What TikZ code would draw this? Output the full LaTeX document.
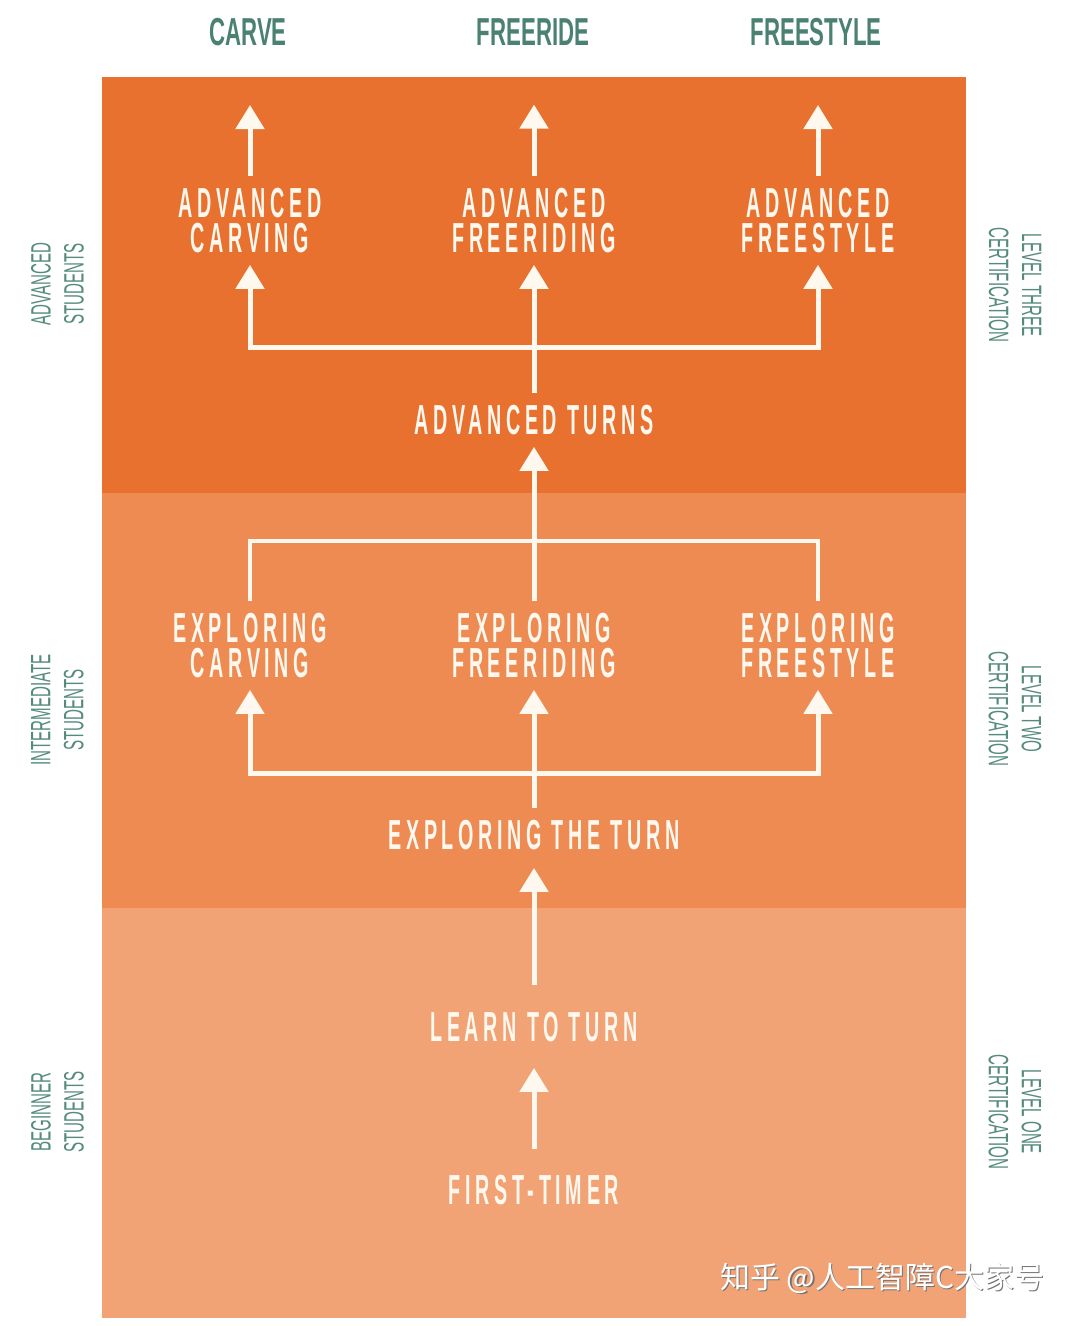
\documentclass[tikz,border=0pt]{standalone}
\usepackage{fontspec}
\setmainfont{Liberation Sans}
\newfontfamily\wfont[FakeStretch=0.47,LetterSpace=11]{Liberation Sans}
\newfontfamily\cfont[FakeStretch=0.57]{Liberation Sans}
\newfontfamily\sfont[FakeStretch=0.54]{Liberation Sans}
\newfontfamily\cjk{Noto Sans CJK SC}
\usetikzlibrary{arrows.meta}
\definecolor{bandA}{HTML}{E8712F}
\definecolor{bandB}{HTML}{EE8B53}
\definecolor{bandC}{HTML}{F1A375}
\definecolor{cream}{HTML}{FFF8EF}
\definecolor{tealA}{HTML}{4A8172}
\definecolor{tealB}{HTML}{558B7D}
\begin{document}
\begin{tikzpicture}[x=1pt,y=-1pt,
  lab/.style={text=cream, font=\wfont\bfseries\fontsize{42}{35}\selectfont, align=center, inner sep=12pt, outer sep=0pt},
  col/.style={text=tealA, font=\cfont\bfseries\fontsize{39}{39}\selectfont, inner sep=0pt},
  side/.style={text=tealB, font=\sfont\fontsize{28}{33}\selectfont, align=center, inner sep=0pt},
  ln/.style={draw=cream, line width=4.5pt, line join=miter},
  arr/.style={draw=cream, line width=5pt, line join=miter, -{Triangle[width=28pt,length=24pt]}}]
\useasboundingbox (0,0) rectangle (1080,1326);
\fill[white] (0,0) rectangle (1080,1326);
% bands
\fill[bandA] (102,77) rectangle (966,493);
\fill[bandB] (102,493) rectangle (966,908);
\fill[bandC] (102,908) rectangle (966,1318);
% column labels
\node[col] (cc) at (248,32) {CARVE};
\node[col] (cf) at (533,32) {FREERIDE};
\node[col] (cs) at (816,32) {FREESTYLE};
% side labels
\node[side, rotate=90] (s3) at (57.5,284) {ADVANCED\\STUDENTS};
\node[side, rotate=90] (s2) at (57.5,710) {INTERMEDIATE\\STUDENTS};
\node[side, rotate=90] (s1) at (57.5,1112) {BEGINNER\\STUDENTS};
\node[side, rotate=-90] (l3) at (1015,285) {LEVEL THREE\\CERTIFICATION};
\node[side, rotate=-90] (l2) at (1015,709) {LEVEL TWO\\CERTIFICATION};
\node[side, rotate=-90] (l1) at (1015,1112) {LEVEL ONE\\CERTIFICATION};
% main labels
\node[lab] (ac) at (250,220.5) {ADVANCED\\CARVING};
\node[lab] (af) at (534,220.5) {ADVANCED\\FREERIDING};
\node[lab] (as) at (818,220.5) {ADVANCED\\FREESTYLE};
\node[lab] (at) at (534,420) {ADVANCED TURNS};
\node[lab] (ec) at (250,645.5) {EXPLORING\\CARVING};
\node[lab] (ef) at (534,645.5) {EXPLORING\\FREERIDING};
\node[lab] (es) at (818,645.5) {EXPLORING\\FREESTYLE};
\node[lab] (et) at (534,835) {EXPLORING THE TURN};
\node[lab] (lt) at (534,1027) {LEARN TO TURN};
\node[lab] (ft) at (534,1190) {FIRST-TIMER};
% bracket points
\coordinate (b1) at (534,347);
\coordinate (b2) at (534,541);
\coordinate (b3) at (534,773);
% top arrows toward column labels
\draw[arr, shorten >=59pt] (ac.north) -- (ac.north |- cc.south);
\draw[arr, shorten >=59pt] (af.north) -- (af.north |- cf.south);
\draw[arr, shorten >=59pt] (as.north) -- (as.north |- cs.south);
% advanced turns -> advanced row
\draw[arr] (at.north) -- (b1) -| (ac.south);
\draw[arr] (at.north) -- (b1) -| (as.south);
\draw[arr] (at.north) -- (af.south);
% exploring row -> advanced turns
\draw[ln] (ec.north) |- (b2);
\draw[ln] (es.north) |- (b2);
\draw[arr] (ef.north) -- (at.south);
% exploring the turn -> exploring row
\draw[arr] (et.north) -- (b3) -| (ec.south);
\draw[arr] (et.north) -- (b3) -| (es.south);
\draw[arr] (et.north) -- (ef.south);
% lower arrows
\draw[arr, shorten <=15pt, shorten >=6pt] (lt.north) -- (et.south);
\draw[arr, shorten <=14pt, shorten >=14pt] (ft.north) -- (lt.south);
% watermark
\node[font=\cjk\fontsize{30}{30}\selectfont, text=black!55, anchor=west, inner sep=0pt] (wms) at (721.5,1279.5) {知乎 @人工智障C大家号};
\node[font=\cjk\fontsize{30}{30}\selectfont, text=white, anchor=west, inner sep=0pt] (wm) at (720,1278) {知乎 @人工智障C大家号};
\end{tikzpicture}
\end{document}
